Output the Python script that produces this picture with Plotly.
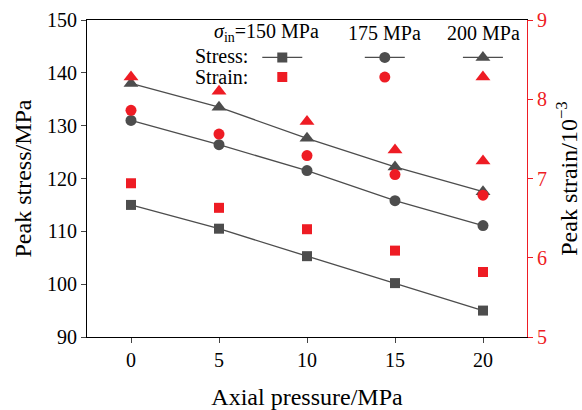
import plotly.graph_objects as go

axial = [0, 5, 10, 15, 20]
labels = ["150", "175", "200"]
stress = {
    "150": [115.0, 110.5, 105.3, 100.2, 95.0],
    "175": [131.0, 126.4, 121.5, 115.8, 111.1],
    "200": [138.0, 133.5, 127.6, 122.2, 117.5],
}
strain = {
    "150": [6.94, 6.63, 6.36, 6.09, 5.82],
    "175": [7.86, 7.56, 7.29, 7.05, 6.79],
    "200": [8.28, 8.10, 7.72, 7.36, 7.22],
}
symbols = {"150": "square", "175": "circle", "200": "triangle-up"}
sizes = {"150": 10, "175": 11, "200": 13}

FONT = "Liberation Serif"
GRAY = "#4d4d4d"
RED = "#ee1c24"

# legend item positions (paper fractions) per group
leg_x = {"150": 0.387, "175": 0.620, "200": 0.843}
row_y = {"stress": 0.882, "strain": 0.820}

fig = go.Figure()
legends = {}
n = 1
for k in labels:
    lname = "legend" if n == 1 else f"legend{n}"
    fig.add_trace(go.Scatter(
        x=axial, y=stress[k], mode="lines+markers", name="",
        line=dict(color=GRAY, width=1.3),
        marker=dict(symbol=symbols[k], size=sizes[k], color=GRAY),
        legend=lname, showlegend=True))
    legends[lname] = (leg_x[k], row_y["stress"])
    n += 1
for k in labels:
    lname = f"legend{n}"
    fig.add_trace(go.Scatter(
        x=axial, y=strain[k], mode="markers", name="", yaxis="y2",
        marker=dict(symbol=symbols[k], size=sizes[k], color=RED),
        legend=lname, showlegend=True))
    legends[lname] = (leg_x[k], row_y["strain"])
    n += 1

leg_layout = {}
for lname, (lx, ly) in legends.items():
    leg_layout[lname] = dict(x=lx, y=ly, xanchor="left", yanchor="middle",
                             orientation="h", bgcolor="rgba(0,0,0,0)",
                             font=dict(family=FONT, size=12), itemwidth=40,
                             itemsizing="trace")

fig.update_layout(
    width=582, height=410,
    margin=dict(l=87, r=55, t=20, b=73),
    paper_bgcolor="white", plot_bgcolor="white",
    font=dict(family=FONT, size=20, color="black"),
    xaxis=dict(range=[-2.5, 22.5], tickvals=axial, ticks="outside", ticklen=5,
               showline=True, linecolor="black", linewidth=1.2, mirror=True,
               showgrid=False, zeroline=False, automargin=False,
               title=dict(text="Axial pressure/MPa", standoff=22)),
    yaxis=dict(range=[90, 150], dtick=10, ticks="outside", ticklen=5,
               showline=True, linecolor="black", linewidth=1.2,
               showgrid=False, zeroline=False, automargin=False,
               title=dict(text="Peak stress/MPa", standoff=8)),
    yaxis2=dict(range=[5, 9], dtick=1, overlaying="y", side="right",
                ticks="outside", ticklen=5, tickcolor=RED,
                tickfont=dict(color=RED), showline=True, linecolor=RED,
                linewidth=1.2, showgrid=False, zeroline=False, automargin=False,
                title=dict(text="Peak strain/10<sup>\u22123</sup>", standoff=23)),
    annotations=[
        dict(text="<i>\u03c3</i><sub>in</sub>=150 MPa", x=0.408, y=0.959,
             xref="paper", yref="paper", xanchor="center", yanchor="middle",
             showarrow=False),
        dict(text="175 MPa", x=0.677, y=0.959, xref="paper", yref="paper",
             xanchor="center", yanchor="middle", showarrow=False),
        dict(text="200 MPa", x=0.902, y=0.959, xref="paper", yref="paper",
             xanchor="center", yanchor="middle", showarrow=False),
        dict(text="Stress:", x=0.24, y=0.886, xref="paper", yref="paper",
             xanchor="left", yanchor="middle", showarrow=False),
        dict(text="Strain:", x=0.24, y=0.820, xref="paper", yref="paper",
             xanchor="left", yanchor="middle", showarrow=False),
    ],
    **leg_layout,
)
fig.write_html("out.html")
